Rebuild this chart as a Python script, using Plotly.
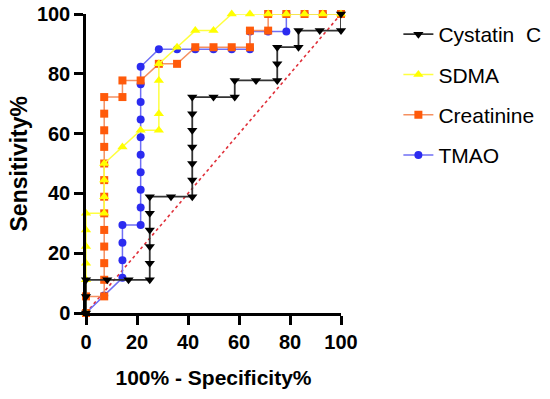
import plotly.graph_objects as go

# ---- data (100% - Specificity%, Sensitivity%) ----
cys_x = [0, 0, 0, 8.33, 16.67, 25, 25, 25, 25, 25, 25, 33.33, 41.67, 41.67, 41.67, 41.67, 41.67, 41.67, 41.67,
         50, 58.33, 58.33, 66.67, 75, 75, 75, 83.33, 83.33, 91.67, 100, 100]
cys_y = [0, 5.56, 11.11, 11.11, 11.11, 11.11, 16.67, 22.22, 27.78, 33.33, 38.89, 38.89, 38.89, 44.44, 50, 55.56,
         61.11, 66.67, 72.22, 72.22, 72.22, 77.78, 77.78, 77.78, 83.33, 88.89, 88.89, 94.44, 94.44, 94.44, 100]

sdma_x = [0, 0, 0, 0, 0, 0, 7.14, 7.14, 7.14, 7.14, 14.29, 21.43, 28.57, 28.57, 28.57, 28.57, 35.71, 42.86, 50,
          57.14, 64.29, 71.43, 78.57, 85.71, 92.86, 100]
sdma_y = [0, 11.11, 16.67, 22.22, 27.78, 33.33, 33.33, 38.89, 44.44, 50, 55.56, 61.11, 61.11, 66.67, 77.78, 83.33,
          88.89, 94.44, 94.44, 100, 100, 100, 100, 100, 100, 100]

crea_x = [0, 0, 7.14, 7.14, 7.14, 7.14, 7.14, 7.14, 7.14, 7.14, 7.14, 7.14, 7.14, 7.14, 7.14, 14.29, 14.29, 21.43,
          28.57, 35.71, 42.86, 50, 57.14, 64.29, 64.29, 71.43, 71.43, 78.57, 85.71, 92.86, 100]
crea_y = [0, 5.56, 5.56, 11.11, 16.67, 22.22, 27.78, 33.33, 38.89, 44.44, 50, 55.56, 61.11, 66.67, 72.22, 72.22,
          77.78, 77.78, 83.33, 83.33, 88.89, 88.89, 88.89, 88.89, 94.44, 94.44, 100, 100, 100, 100, 100]

tmao_x = [0, 7.14, 14.29, 14.29, 14.29, 14.29, 21.43, 21.43, 21.43, 21.43, 21.43, 21.43, 21.43, 21.43, 21.43, 21.43,
          28.57, 35.71, 42.86, 50, 57.14, 64.29, 64.29, 71.43, 78.57, 78.57, 85.71, 92.86, 100]
tmao_y = [0, 5.88, 11.76, 17.65, 23.53, 29.41, 29.41, 35.29, 41.18, 47.06, 52.94, 58.82, 64.71, 70.59, 76.47, 82.35,
          88.24, 88.24, 88.24, 88.24, 88.24, 88.24, 94.12, 94.12, 94.12, 100, 100, 100, 100]

ref_x = [0, 100]
ref_y = [0, 100]

tick_vals = [0, 20, 40, 60, 80, 100]

FONT = "Liberation Sans, Arial, sans-serif"

fig = go.Figure()

fig.add_trace(go.Scatter(x=ref_x, y=ref_y, mode="lines", showlegend=False,
                         line=dict(color="#e0303a", width=1.6, dash="dot"), hoverinfo="skip"))

fig.add_trace(go.Scatter(x=tmao_x, y=tmao_y, mode="lines+markers", name="TMAO", legendgroup="d", legendrank=4,
                         line=dict(color="#6f6ff5", width=1.5),
                         marker=dict(symbol="circle", size=8, color="#2b2bf0"), cliponaxis=False))
fig.add_trace(go.Scatter(x=crea_x, y=crea_y, mode="lines+markers", name="Creatinine", legendgroup="c", legendrank=3,
                         line=dict(color="#f59060", width=1.5),
                         marker=dict(symbol="square", size=8, color="#ff5a0a"), cliponaxis=False))
fig.add_trace(go.Scatter(x=sdma_x, y=sdma_y, mode="lines+markers", name="SDMA", legendgroup="b", legendrank=2,
                         line=dict(color="#ffff40", width=1.5),
                         marker=dict(symbol="triangle-up", size=9, color="#ffff00"), cliponaxis=False))
fig.add_trace(go.Scatter(x=cys_x, y=cys_y, mode="lines+markers", name="Cystatin\u00a0\u00a0C", legendgroup="a",
                         legendrank=1,
                         line=dict(color="#333333", width=1.8),
                         marker=dict(symbol="triangle-down", size=9, color="#000000"), cliponaxis=False))

axis_common = dict(
    range=[0, 100], tickvals=tick_vals, showline=True, linecolor="black", linewidth=2.5,
    ticks="outside", ticklen=9, tickwidth=2.5, tickcolor="black", showgrid=False, zeroline=False,
    ticklabeloverflow="allow", automargin=False,
    tickfont=dict(family=FONT, size=20, color="black", weight="bold"),
)

fig.update_xaxes(**axis_common,
                 title=dict(text="<b>100% - Specificity%</b>", font=dict(family=FONT, size=21, color="black"),
                            standoff=19))
fig.update_yaxes(**axis_common)

fig.update_layout(
    width=550, height=399,
    margin=dict(l=86, r=209, t=14, b=86, autoexpand=False),
    paper_bgcolor="white", plot_bgcolor="white",
    legend=dict(x=1.225, xanchor="left", y=1.0, yanchor="top", traceorder="grouped",
                tracegroupgap=10, font=dict(family=FONT, size=21, color="black"),
                bgcolor="rgba(0,0,0,0)", itemwidth=30),
    showlegend=True,
    annotations=[dict(text="<b>Sensitivity%</b>", textangle=-90, xref="paper", yref="paper",
                      x=-68 / 255, y=0.5, xanchor="center", yanchor="middle", showarrow=False,
                      font=dict(family=FONT, size=23, color="black"))],
)

fig.write_html("out.html", config={"displayModeBar": False},
               post_script="document.body.style.margin='0px';")
